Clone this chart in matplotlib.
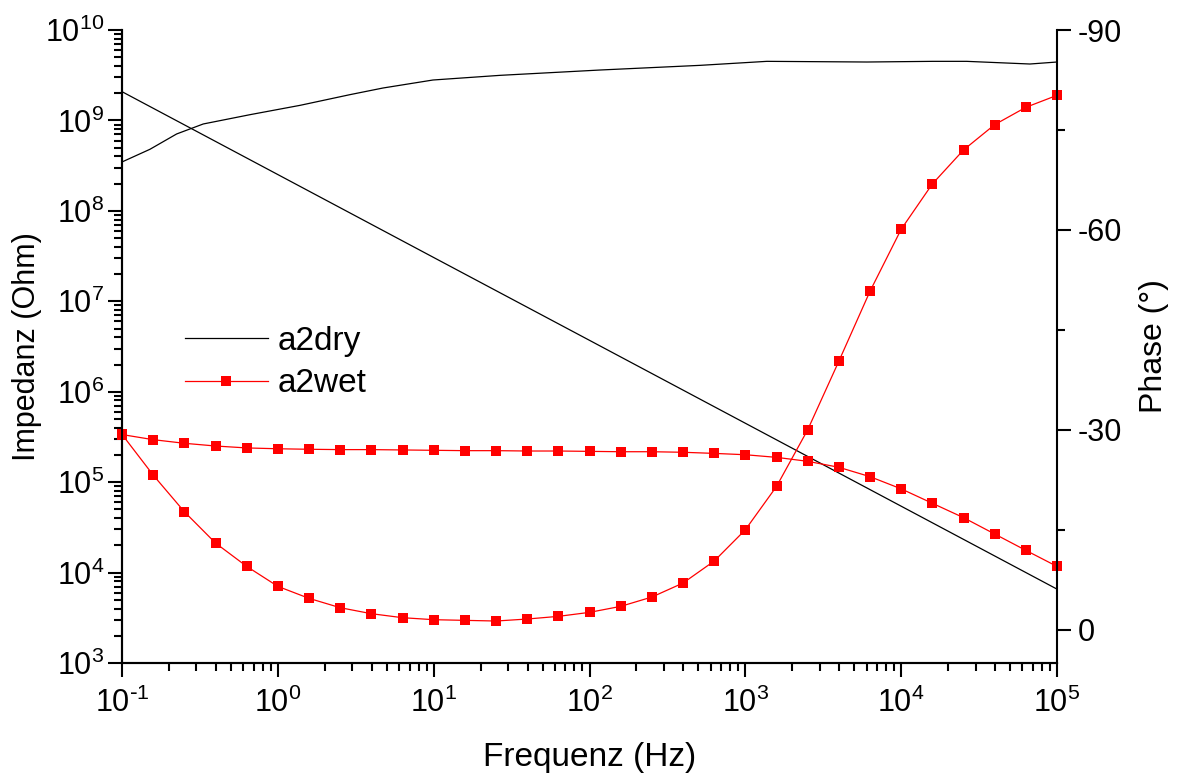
import numpy as np
import matplotlib
matplotlib.use("Agg")
from matplotlib import pyplot as plt
from matplotlib.ticker import LogLocator, MultipleLocator, NullFormatter, FuncFormatter

plt.rcParams['font.family'] = ['Liberation Sans', 'DejaVu Sans']
plt.rcParams['mathtext.default'] = 'regular'
plt.rcParams['axes.unicode_minus'] = False

# a2wet: 5 points per decade, 0.1 Hz .. 100 kHz
f_wet = 10 ** (-1 + np.arange(31) / 5.0)
z_wet = [3.36e5, 2.95e5, 2.69e5, 2.51e5, 2.39e5, 2.34e5, 2.31e5, 2.29e5,
         2.29e5, 2.27e5, 2.25e5, 2.23e5, 2.23e5, 2.21e5, 2.21e5, 2.19e5,
         2.17e5, 2.17e5, 2.14e5, 2.08e5, 2.01e5, 1.88e5, 1.70e5, 1.46e5,
         1.15e5, 8.43e4, 5.84e4, 4.05e4, 2.67e4, 1.76e4, 1.17e4]
ph_wet = [-29.3, -23.2, -17.7, -13.0, -9.5, -6.5, -4.7, -3.3, -2.4, -1.8,
          -1.5, -1.4, -1.3, -1.6, -2.0, -2.6, -3.5, -4.9, -7.0, -10.3,
          -15.0, -21.5, -30.0, -40.3, -50.8, -60.1, -66.9, -72.0, -75.8,
          -78.4, -80.2]

# a2dry impedance
f_dry_z = [0.1, 1, 10, 100, 1e3, 1e4, 1e5]
z_dry = [2.08e9, 2.52e8, 3.05e7, 3.70e6, 4.48e5, 5.42e4, 6.56e3]

# a2dry phase
f_dry_ph = [0.1, 0.151, 0.224, 0.332, 0.664, 1.39, 2.90, 4.73, 9.9, 26.7,
            117, 513, 1374, 6025, 1.6e4, 2.63e4, 6.7e4, 1e5]
ph_dry = [-70.2, -72.1, -74.4, -75.9, -77.3, -78.7, -80.3, -81.3, -82.5,
          -83.2, -84.0, -84.7, -85.3, -85.2, -85.3, -85.3, -84.9, -85.2]


def pow10(v, pos):
    e = int(round(np.log10(v)))
    if e < 0:
        return r'$10^{\text{-}%d}$' % (-e)
    return r'$10^{%d}$' % e


fig = plt.figure(figsize=(11.78, 7.80), dpi=100)
ax = fig.add_axes([0.1036, 0.15, 0.7937, 0.8115])
ax2 = ax.twinx()

red = '#ff0000'
l1, = ax.plot(f_dry_z, z_dry, color='black', lw=0.9, label='a2dry')
ax2.plot(f_dry_ph, ph_dry, color='black', lw=0.9)
l2, = ax.plot(f_wet, z_wet, color=red, lw=0.9, marker='s', ms=6.5,
              mec=red, mew=0, clip_on=False, label='a2wet')
ax2.plot(f_wet, ph_wet, color=red, lw=0.9, marker='s', ms=6.5,
         mec=red, mew=0, clip_on=False)

ax.set_xscale('log')
ax.set_yscale('log')
ax.set_xlim(0.1, 1e5)
ax.set_ylim(1e3, 1e10)
ax2.set_ylim(5, -90)

ax.xaxis.set_major_locator(LogLocator(base=10, numticks=20))
ax.xaxis.set_minor_locator(LogLocator(base=10, subs=np.arange(2, 10), numticks=20))
ax.xaxis.set_major_formatter(FuncFormatter(pow10))
ax.xaxis.set_minor_formatter(NullFormatter())
ax.yaxis.set_major_locator(LogLocator(base=10, numticks=20))
ax.yaxis.set_minor_locator(LogLocator(base=10, subs=np.arange(2, 10), numticks=20))
ax.yaxis.set_major_formatter(FuncFormatter(pow10))
ax.yaxis.set_minor_formatter(NullFormatter())
ax2.yaxis.set_major_locator(MultipleLocator(30))
ax2.yaxis.set_minor_locator(MultipleLocator(15))

for a in (ax, ax2):
    a.spines['top'].set_visible(False)
    for s in a.spines.values():
        s.set_linewidth(1.5)
    a.tick_params(which='major', direction='out', length=10, width=1.5,
                  labelsize=22, pad=5)
    a.tick_params(which='minor', direction='out', length=5.5, width=1.5)
ax.spines['right'].set_visible(False)
ax.tick_params(axis='x', which='major', pad=8)
ax.tick_params(axis='y', which='major', pad=3)

ax.set_xlabel('Frequenz (Hz)', fontsize=24, labelpad=16)
ax.set_ylabel('Impedanz (Ohm)', fontsize=22, labelpad=2)
ax2.set_ylabel('Phase (°)', fontsize=23, labelpad=12)

ax.legend(handles=[l1, l2], loc='center left', bbox_to_anchor=(0.067, 0.475),
          frameon=False, fontsize=24, handlelength=2.5, handletextpad=0.3,
          labelspacing=0.35, borderpad=0, borderaxespad=0, numpoints=1)

fig.savefig('out.png', dpi=100)
